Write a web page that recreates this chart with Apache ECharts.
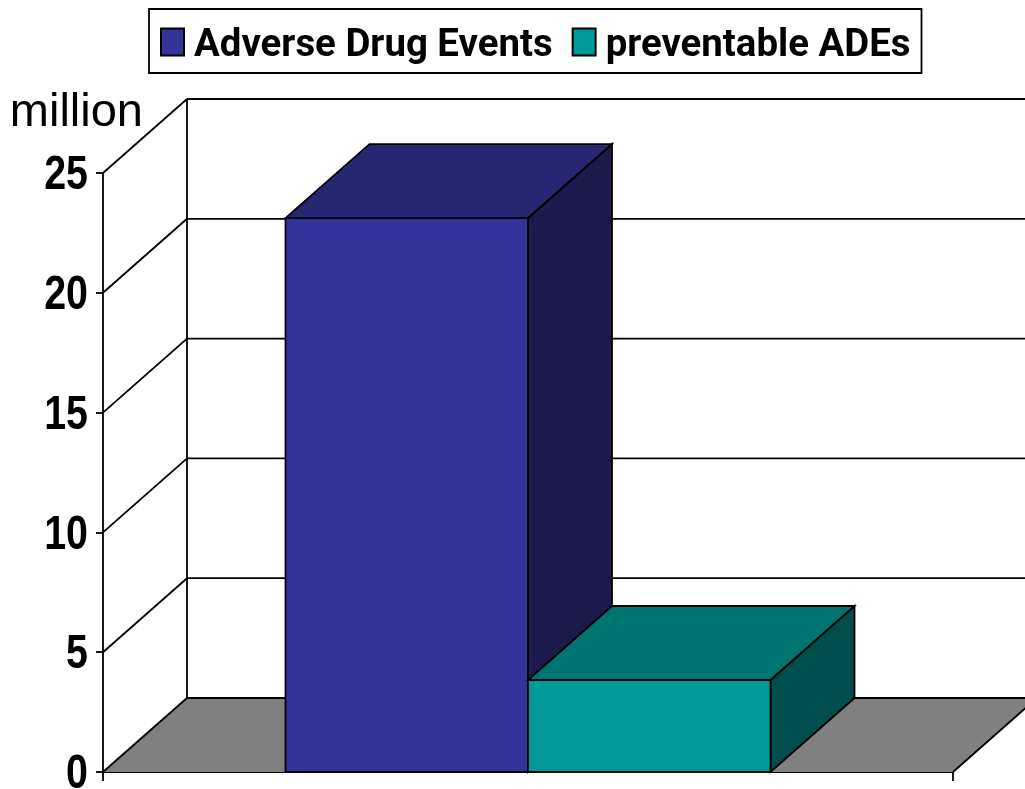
<!DOCTYPE html>
<html><head><meta charset="utf-8">
<style>html,body{margin:0;padding:0;background:#fff}#c{width:1025px;height:789px}</style>
<script src="https://cdn.jsdelivr.net/npm/echarts@6/dist/echarts.min.js"></script>
</head><body><div id="c"></div>
<script>
const categories = [''];
const seriesNames = ['Adverse Drug Events', 'preventable ADEs'];
const adverseDrugEvents = [23.12];
const preventableADEs = [3.84];
const yTicks = [0, 5, 10, 15, 20, 25];

const DX = 84, DY = -74, BAR_W = 242.5;
const INK = { stroke: '#000', lineWidth: 1.8 };

function bar3d(offsetSign, front, top, side) {
  return function (params, api) {
    const p = api.coord([api.value(0), api.value(1)]);
    const base = api.coord([api.value(0), 0]);
    const x0 = offsetSign < 0 ? p[0] - BAR_W : p[0];
    const x1 = x0 + BAR_W, yt = p[1], yb = base[1];
    const poly = (pts, fill) => ({ type: 'polygon', shape: { points: pts }, style: Object.assign({ fill }, INK) });
    return { type: 'group', children: [
      poly([[x1, yt], [x1 + DX, yt + DY], [x1 + DX, yb + DY], [x1, yb]], side),
      poly([[x0, yt], [x1, yt], [x1 + DX, yt + DY], [x0 + DX, yt + DY]], top),
      poly([[x0, yt], [x1, yt], [x1, yb], [x0, yb]], front)
    ] };
  };
}

function walls(params, api) {
  const v = api.value(1);
  const cs = params.coordSys;
  const y = api.coord([0, v])[1];
  const xl = cs.x, xr = cs.x + cs.width;
  const line = (a, b, c, d) => ({ type: 'line', shape: { x1: a, y1: b, x2: c, y2: d }, style: INK });
  const ch = [];
  if (v === 0) {
    ch.push({ type: 'polygon', shape: { points: [[xl, y], [xl + DX, y + DY], [xr + DX, y + DY], [xr, y]] }, style: { fill: '#808080', stroke: null } });
    ch.push(line(xr, y, xr + DX, y + DY));
    const yTop = api.coord([0, yTicks[yTicks.length - 1]])[1];
    ch.push(line(xl + DX, y + DY, xl + DX, yTop + DY));
  }
  ch.push(line(xl, y, xl + DX, y + DY));
  ch.push(line(xl + DX, y + DY, xr + DX, y + DY));
  // tick label, condensed like the reference's narrow bold face
  ch.push({ type: 'text', x: xl - 15, y: y + 3, scaleX: 0.82,
    style: { text: String(v), align: 'right', verticalAlign: 'middle', fill: '#000',
      font: 'bold 48px "Liberation Sans"' } });
  return { type: 'group', children: ch };
}

const chart = echarts.init(document.getElementById('c'), null, { renderer: 'canvas' });
chart.setOption({
  animation: false,
  backgroundColor: '#fff',
  grid: { left: 103, right: 72, top: 173, bottom: 17, outerBoundsMode: 'none' },
  legend: {
    data: seriesNames,
    left: 149, top: 9,
    padding: [10, 11, 8, 11],
    itemGap: 19,
    itemWidth: 23, itemHeight: 27,
    icon: 'rect',
    borderColor: '#000', borderWidth: 1.8,
    selectedMode: false,
    formatter: name => '{t|' + name + '}',
    textStyle: {
      fontFamily: 'Roboto', fontWeight: 'bold', fontSize: 38.4, color: '#000',
      rich: { t: { fontFamily: 'Roboto', fontWeight: 'bold', fontSize: 38.4, color: '#000', lineHeight: 36, padding: [8, 0, 0, 5] } }
    }
  },
  xAxis: {
    type: 'category', data: categories,
    axisLine: { show: true, lineStyle: { color: '#000', width: 1.8 } },
    axisTick: { show: true, length: 9, lineStyle: { color: '#000', width: 1.8 } },
    axisLabel: { show: false }
  },
  yAxis: {
    type: 'value', min: 0, max: 25, interval: 5,
    name: 'million', nameLocation: 'end', nameGap: 36,
    nameTextStyle: { fontFamily: '"Liberation Sans"', fontSize: 47, color: '#000', align: 'right', padding: [0, -40, 0, 0] },
    axisLine: { show: true, lineStyle: { color: '#000', width: 1.8 } },
    axisTick: { show: true, length: 7, lineStyle: { color: '#000', width: 1.8 } },
    splitLine: { show: false },
    axisLabel: { show: false }
  },
  series: [
    { type: 'custom', name: 'walls', z: 1, silent: true, renderItem: walls, clip: false,
      data: yTicks.map(t => [0, t]), encode: { x: 0, y: 1 } },
    { type: 'custom', name: seriesNames[0], z: 2, silent: true, clip: false,
      renderItem: bar3d(-1, '#333399', '#262673', '#1a1a4d'),
      itemStyle: { color: '#333399', borderColor: '#000', borderWidth: 1.8 },
      data: adverseDrugEvents.map((v, i) => [i, v]), encode: { x: 0, y: 1 } },
    { type: 'custom', name: seriesNames[1], z: 3, silent: true, clip: false,
      renderItem: bar3d(1, '#009999', '#007373', '#004d4d'),
      itemStyle: { color: '#009999', borderColor: '#000', borderWidth: 1.8 },
      data: preventableADEs.map((v, i) => [i, v]), encode: { x: 0, y: 1 } }
  ]
});
</script></body></html>
